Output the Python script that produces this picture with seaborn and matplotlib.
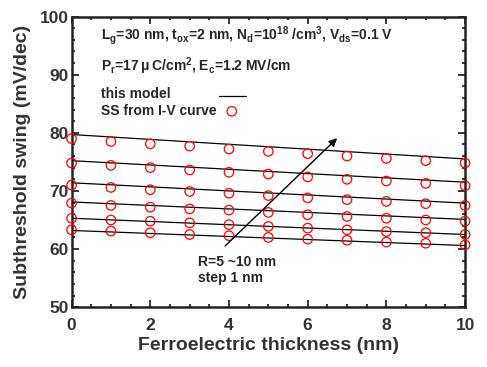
import numpy as np
import pandas as pd
import matplotlib
matplotlib.use('Agg')
import matplotlib.pyplot as plt
import seaborn as sns
from matplotlib.ticker import MultipleLocator
from matplotlib.lines import Line2D

sns.set_style('ticks')
plt.rcParams['font.family'] = ['Liberation Sans', 'DejaVu Sans']
plt.rcParams['font.weight'] = 'bold'
plt.rcParams['mathtext.default'] = 'regular'

# ferroelectric thickness (nm)
t_fe = [0, 1, 2, 3, 4, 5, 6, 7, 8, 9, 10]

# SS from I-V curve, one list per radius (R = 10 nm ... 5 nm, top to bottom)
ss_r10 = [79.0, 78.5, 78.1, 77.7, 77.2, 76.8, 76.4, 76.0, 75.6, 75.2, 74.8]
ss_r9 = [74.8, 74.4, 74.0, 73.6, 73.2, 72.9, 72.4, 72.0, 71.7, 71.3, 70.9]
ss_r8 = [71.0, 70.6, 70.2, 69.9, 69.6, 69.2, 68.8, 68.5, 68.2, 67.8, 67.5]
ss_r7 = [67.9, 67.5, 67.2, 66.9, 66.7, 66.3, 65.9, 65.6, 65.3, 65.0, 64.8]
ss_r6 = [65.3, 65.0, 64.8, 64.5, 64.2, 63.9, 63.6, 63.3, 63.0, 62.8, 62.5]
ss_r5 = [63.3, 63.1, 62.8, 62.5, 62.3, 62.0, 61.7, 61.5, 61.2, 61.0, 60.7]

# model lines (end points at t=0 and t=10)
model_t = [0, 10]
model_r10 = [79.7, 75.5]
model_r9 = [75.2, 71.5]
model_r8 = [71.4, 67.9]
model_r7 = [68.1, 65.1]
model_r6 = [65.3, 62.5]
model_r5 = [63.2, 60.6]

radii = [10, 9, 8, 7, 6, 5]
ss_all = [ss_r10, ss_r9, ss_r8, ss_r7, ss_r6, ss_r5]
model_all = [model_r10, model_r9, model_r8, model_r7, model_r6, model_r5]

pts = pd.DataFrame({
    't': np.tile(t_fe, len(radii)),
    'ss': np.concatenate(ss_all),
    'R': np.repeat(radii, len(t_fe)),
})
lines = pd.DataFrame({
    't': np.tile(model_t, len(radii)),
    'ss': np.concatenate(model_all),
    'R': np.repeat(radii, len(model_t)),
})

fig, ax = plt.subplots(figsize=(4.87, 3.67), dpi=100)
fig.subplots_adjust(left=0.147, right=0.955, top=0.955, bottom=0.163)

sns.lineplot(data=lines, x='t', y='ss', units='R', estimator=None,
             color='black', linewidth=0.9, ax=ax, legend=False)
sns.scatterplot(data=pts, x='t', y='ss', marker='o', s=46,
                facecolors='none', edgecolor='red', linewidth=0.9,
                ax=ax, legend=False, clip_on=False, zorder=3)

ax.set_xlim(0, 10)
ax.set_ylim(50, 100)
ax.xaxis.set_major_locator(MultipleLocator(2))
ax.xaxis.set_minor_locator(MultipleLocator(0.5))
ax.yaxis.set_major_locator(MultipleLocator(10))
ax.yaxis.set_minor_locator(MultipleLocator(2))
ax.tick_params(which='both', direction='in', top=True, right=True,
               width=1.3, labelsize=12.5)
ax.tick_params(axis='x', pad=8)
ax.tick_params(axis='y', pad=2)
ax.tick_params(which='major', length=5)
ax.tick_params(which='minor', length=2.5)
for lab in ax.get_xticklabels() + ax.get_yticklabels():
    lab.set_fontweight('bold')
    lab.set_color('#333333')
for sp in ax.spines.values():
    sp.set_linewidth(1.8)
    sp.set_color('#222222')

ax.set_xlabel('Ferroelectric thickness (nm)', fontsize=14, fontweight='bold',
              color='#333333', labelpad=3)
ax.set_ylabel('Subthreshold swing (mV/dec)', fontsize=14, fontweight='bold',
              color='#333333', labelpad=6)

ax.text(0.75, 96.7, r'L$_g$=30 nm, t$_{ox}$=2 nm, N$_d$=10$^{18}$ /cm$^3$, V$_{ds}$=0.1 V',
        fontsize=10, fontweight='bold', va='center')
ax.text(0.75, 91.4, r'P$_r$=17$\,\mu\,$C/cm$^2$, E$_c$=1.2 MV/cm',
        fontsize=10, fontweight='bold', va='center')

# legend drawn by hand
ax.text(0.75, 86.6, 'this model', fontsize=10, fontweight='bold', va='center')
ax.text(0.75, 83.7, 'SS from I-V curve', fontsize=10, fontweight='bold', va='center')
ax.add_line(Line2D([3.74, 4.43], [86.4, 86.4], color='black', linewidth=0.9))
ax.scatter([4.07], [83.7], s=46, facecolors='none', edgecolors='red', linewidths=0.9)

ax.annotate('', xy=(6.8, 79.4), xytext=(3.85, 60.2),
            arrowprops=dict(arrowstyle='-|>', color='black', lw=1.0,
                            mutation_scale=12))
ax.text(3.2, 57.8, 'R=5 ~10 nm', fontsize=10, fontweight='bold', va='center')
ax.text(3.2, 55.1, 'step 1 nm', fontsize=10, fontweight='bold', va='center')

fig.savefig('out.png', dpi=100)
